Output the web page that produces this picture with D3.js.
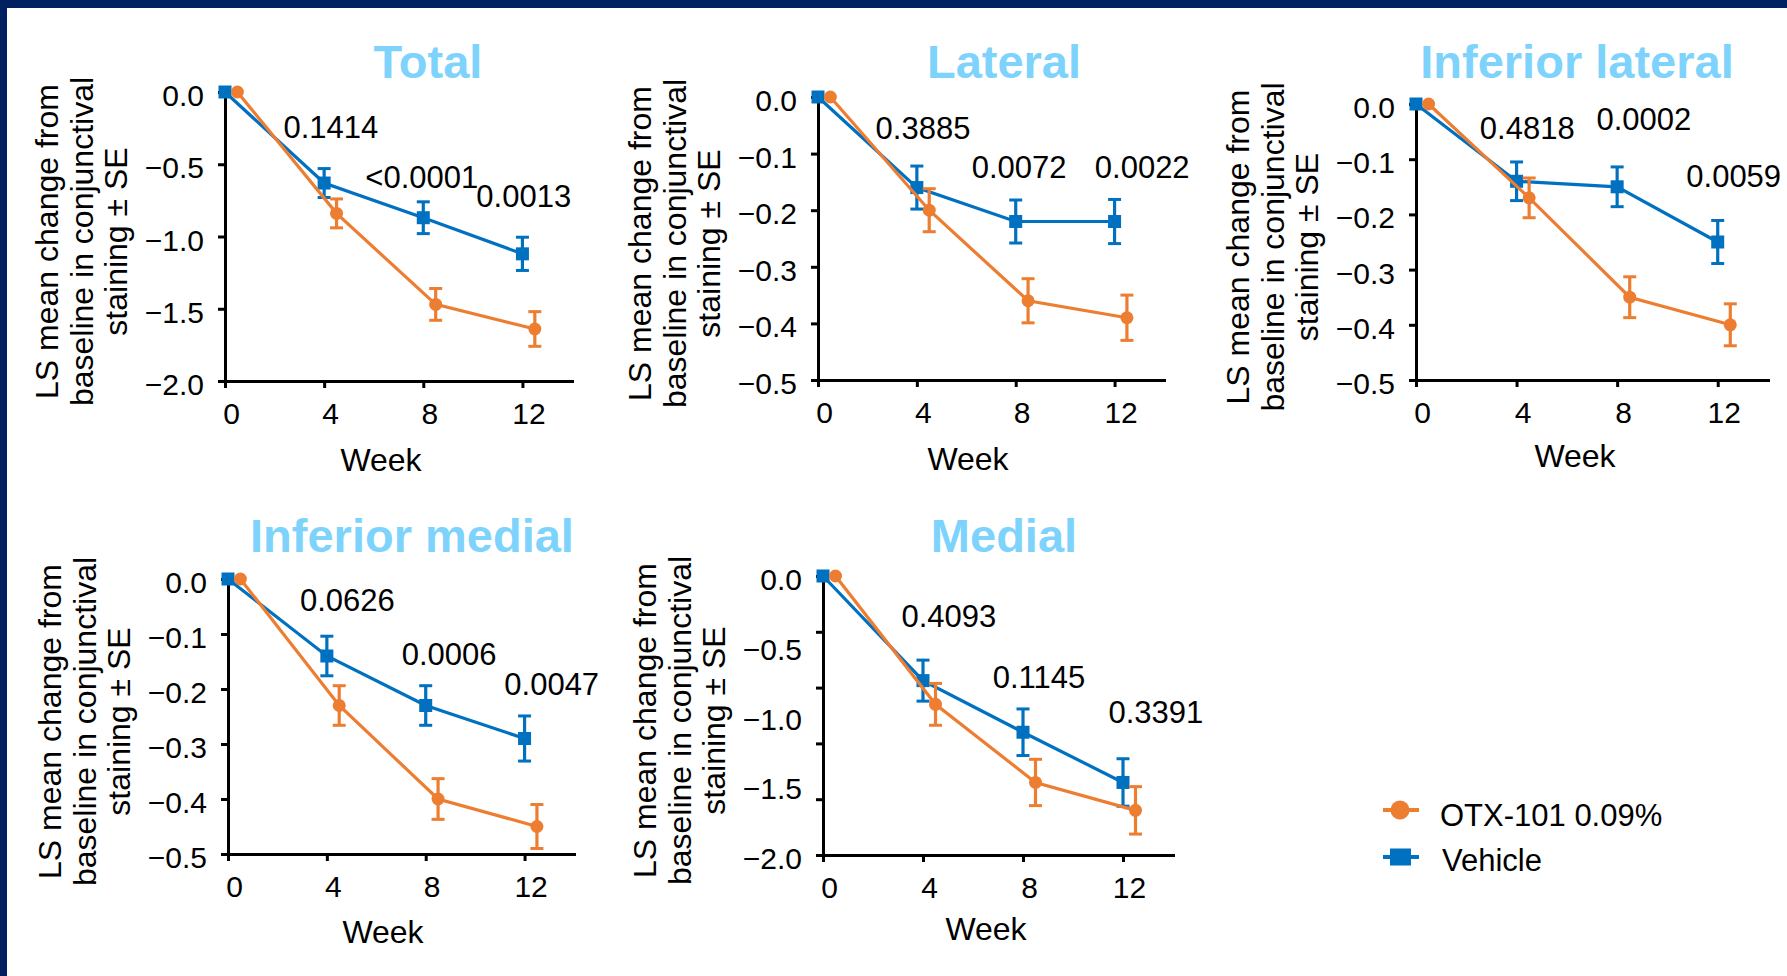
<!DOCTYPE html>
<html><head><meta charset="utf-8">
<script src="https://cdn.jsdelivr.net/npm/d3@7"></script>
<style>
html,body{margin:0;padding:0;background:#fff;}
svg{display:block;}
text{font-family:"Liberation Sans",Arial,Helvetica,sans-serif;}
</style></head><body>
<svg id="chart" width="1787" height="976"></svg>
<script>
// ---------------- DATA ----------------
const weeks = [0, 4, 8, 12];
const xTickValues = [0, 4, 8, 12];
const seriesNames = ["OTX-101 0.09%", "Vehicle"];
const panelTitles = ["Total", "Lateral", "Inferior lateral", "Inferior medial", "Medial"];
const yAxisTitle = ["LS mean change from", "baseline in conjunctival", "staining \u00b1 SE"];
const xAxisTitle = "Week";

// Total
const totalOtx   = [0, -0.84, -1.47, -1.64];
const totalOtxSE = [0, 0.10, 0.11, 0.12];
const totalVeh   = [0, -0.63, -0.87, -1.12];
const totalVehSE = [0, 0.10, 0.11, 0.115];
const totalP     = ["0.1414", "<0.0001", "0.0013"];
const totalYTicks = [0, -0.5, -1.0, -1.5, -2.0];

// Lateral
const lateralOtx   = [0, -0.20, -0.36, -0.39];
const lateralOtxSE = [0, 0.038, 0.039, 0.04];
const lateralVeh   = [0, -0.16, -0.22, -0.22];
const lateralVehSE = [0, 0.038, 0.038, 0.039];
const lateralP     = ["0.3885", "0.0072", "0.0022"];
const lateralYTicks = [0, -0.1, -0.2, -0.3, -0.4, -0.5];

// Inferior lateral
const infLatOtx   = [0, -0.17, -0.35, -0.40];
const infLatOtxSE = [0, 0.036, 0.037, 0.038];
const infLatVeh   = [0, -0.14, -0.15, -0.25];
const infLatVehSE = [0, 0.035, 0.036, 0.039];
const infLatP     = ["0.4818", "0.0002", "0.0059"];
const infLatYTicks = [0, -0.1, -0.2, -0.3, -0.4, -0.5];

// Inferior medial
const infMedOtx   = [0, -0.23, -0.40, -0.45];
const infMedOtxSE = [0, 0.036, 0.037, 0.04];
const infMedVeh   = [0, -0.14, -0.23, -0.29];
const infMedVehSE = [0, 0.036, 0.036, 0.041];
const infMedP     = ["0.0626", "0.0006", "0.0047"];
const infMedYTicks = [0, -0.1, -0.2, -0.3, -0.4, -0.5];

// Medial (tick marks and tick labels are not aligned in the original)
const medialOtx   = [0, -0.92, -1.48, -1.68];
const medialOtxSE = [0, 0.15, 0.166, 0.17];
const medialVeh   = [0, -0.75, -1.12, -1.48];
const medialVehSE = [0, 0.147, 0.167, 0.17];
const medialP     = ["0.4093", "0.1145", "0.3391"];
const medialYTicks = [0, -0.5, -1.0, -1.5, -2.0];
const medialYTickMarks = [0, -0.4, -0.8, -1.2, -1.6, -2.0];

// ---------------- LAYOUT ----------------
const COL_OTX = "#ed7d31", COL_VEH = "#0070c0", COL_TITLE = "#7dd3fb", COL_FRAME = "#002060";
const FONT = 31, TICK_FONT = 30, AXIS_FONT = 32;
const otxDodge = 0.5;   // orange points are drawn half a week to the right
const layout = [
  {left:225, right:572, top:92, bottom:381, tx:428, ty:78, wx:381, wy:471,
   pPos:[[2.36,-0.32],[5.66,-0.662],[10.14,-0.794]]},
  {left:818, right:1164, top:97, bottom:380, tx:1004, ty:78, wx:968, wy:470,
   pPos:[[2.33,-0.074],[6.22,-0.143],[11.2,-0.143]]},
  {left:1416, right:1768, top:104, bottom:380, tx:1577, ty:78, wx:1575, wy:467,
   pPos:[[2.54,-0.063],[7.18,-0.048],[10.75,-0.15]]},
  {left:228, right:574, top:579, bottom:854, tx:412, ty:552, wx:383, wy:943,
   pPos:[[2.91,-0.059],[7.03,-0.156],[11.18,-0.211]]},
  {left:823, right:1173, top:576, bottom:855, tx:1004, ty:552, wx:986, wy:940,
   pPos:[[3.14,-0.363],[6.79,-0.805],[11.42,-1.052]]}
];

const panels = [
  {title:panelTitles[0], yMin:-2,   otx:totalOtx,   otxSE:totalOtxSE,   veh:totalVeh,   vehSE:totalVehSE,   p:totalP,   ticks:totalYTicks,   marks:totalYTicks},
  {title:panelTitles[1], yMin:-0.5, otx:lateralOtx, otxSE:lateralOtxSE, veh:lateralVeh, vehSE:lateralVehSE, p:lateralP, ticks:lateralYTicks, marks:lateralYTicks},
  {title:panelTitles[2], yMin:-0.5, otx:infLatOtx,  otxSE:infLatOtxSE,  veh:infLatVeh,  vehSE:infLatVehSE,  p:infLatP,  ticks:infLatYTicks,  marks:infLatYTicks},
  {title:panelTitles[3], yMin:-0.5, otx:infMedOtx,  otxSE:infMedOtxSE,  veh:infMedVeh,  vehSE:infMedVehSE,  p:infMedP,  ticks:infMedYTicks,  marks:infMedYTicks},
  {title:panelTitles[4], yMin:-2,   otx:medialOtx,  otxSE:medialOtxSE,  veh:medialVeh,  vehSE:medialVehSE,  p:medialP,  ticks:medialYTicks,  marks:medialYTickMarks}
];

// ---------------- DRAW ----------------
const svg = d3.select("#chart");
svg.append("rect").attr("width",1787).attr("height",976).attr("fill",COL_FRAME);
svg.append("rect").attr("x",7).attr("y",8).attr("width",1780).attr("height",968).attr("fill","#fff");

function styleAxis(sel){
  sel.attr("font-size",TICK_FONT).attr("font-family",'"Liberation Sans",Arial,sans-serif');
  sel.selectAll(".domain").attr("stroke","#000").attr("stroke-width",3).attr("stroke-linecap","square");
  sel.selectAll(".tick line").attr("stroke","#000").attr("stroke-width",3);
  sel.selectAll(".tick text").attr("fill","#000");
}

panels.forEach((p, k) => {
  const L = layout[k];
  const x = d3.scaleLinear().domain([0,14]).range([L.left, L.right]);
  const y = d3.scaleLinear().domain([p.yMin, 0]).range([L.bottom, L.top]);
  const g = svg.append("g");

  // y tick marks (+ domain line)
  g.append("g").attr("transform",`translate(${L.left},0)`)
    .call(d3.axisLeft(y).tickValues(p.marks).tickFormat("").tickSizeInner(7).tickSizeOuter(0))
    .call(styleAxis);
  // y tick labels
  g.append("g").attr("transform",`translate(${L.left},0)`)
    .call(d3.axisLeft(y).tickValues(p.ticks).tickFormat(d3.format(".1f")).tickSize(0).tickPadding(21))
    .call(styleAxis)
    .call(s => { s.select(".domain").remove(); s.selectAll(".tick text").attr("dy","0.45em"); });
  // x axis
  g.append("g").attr("transform",`translate(0,${L.bottom})`)
    .call(d3.axisBottom(x).tickValues(xTickValues).tickFormat(d3.format("d")).tickSizeInner(7).tickSizeOuter(0).tickPadding(15))
    .call(styleAxis)
    .call(s => s.selectAll(".tick text").attr("dx", 6));

  // titles
  g.append("text").attr("x",L.tx).attr("y",L.ty).attr("text-anchor","middle")
    .attr("font-size",47).attr("font-weight","bold").attr("fill",COL_TITLE).text(p.title);
  g.append("text").attr("x",L.wx).attr("y",L.wy).attr("text-anchor","middle")
    .attr("font-size",AXIS_FONT).attr("fill","#000").text(xAxisTitle);
  const cy = (L.top + L.bottom)/2 + 5;
  const offs = [167, 132, 98];
  yAxisTitle.forEach((t,i) => {
    g.append("text").attr("transform",`translate(${L.left - offs[i]},${cy}) rotate(-90)`)
      .attr("text-anchor","middle").attr("font-size",AXIS_FONT).attr("fill","#000").text(t);
  });

  // series
  const drawSeries = (vals, ses, dodge, color, shape) => {
    const sg = g.append("g");
    sg.append("path").datum(weeks.map((w,i)=>[w+dodge, vals[i]]))
      .attr("d", d3.line().x(d=>x(d[0])).y(d=>y(d[1])))
      .attr("fill","none").attr("stroke",color).attr("stroke-width",3.2);
    weeks.forEach((w,i) => {
      const cx = x(w+dodge);
      if (ses[i] > 0) {
        const y1 = y(vals[i]+ses[i]), y2 = y(vals[i]-ses[i]);
        sg.append("line").attr("x1",cx).attr("x2",cx).attr("y1",y1).attr("y2",y2).attr("stroke",color).attr("stroke-width",3.2);
        [y1,y2].forEach(yy => sg.append("line").attr("x1",cx-6.5).attr("x2",cx+6.5).attr("y1",yy).attr("y2",yy).attr("stroke",color).attr("stroke-width",3));
      }
      if (shape === "square") {
        sg.append("rect").attr("x",cx-6.5).attr("y",y(vals[i])-6.5).attr("width",13).attr("height",13).attr("fill",color);
      } else {
        sg.append("circle").attr("cx",cx).attr("cy",y(vals[i])).attr("r",6.5).attr("fill",color);
      }
    });
  };
  drawSeries(p.veh, p.vehSE, 0, COL_VEH, "square");
  drawSeries(p.otx, p.otxSE, otxDodge, COL_OTX, "circle");

  // p-values
  p.p.forEach((t,i) => {
    g.append("text").attr("x",x(L.pPos[i][0])).attr("y",y(L.pPos[i][1]))
      .attr("font-size",FONT).attr("fill","#000").text(t);
  });
});

// legend
const leg = svg.append("g");
const legItems = [
  {name:seriesNames[0], color:COL_OTX, shape:"circle", cy:810, tx:1440, ty:826},
  {name:seriesNames[1], color:COL_VEH, shape:"square", cy:857, tx:1442, ty:871}
];
legItems.forEach(it => {
  leg.append("line").attr("x1",1383).attr("x2",1419).attr("y1",it.cy).attr("y2",it.cy).attr("stroke",it.color).attr("stroke-width",4);
  if (it.shape === "circle") leg.append("circle").attr("cx",1400).attr("cy",it.cy).attr("r",9.5).attr("fill",it.color);
  else leg.append("rect").attr("x",1390).attr("y",it.cy-8.5).attr("width",21).attr("height",17).attr("fill",it.color);
  leg.append("text").attr("x",it.tx).attr("y",it.ty).attr("font-size",FONT).attr("fill","#000").text(it.name);
});
</script>
</body></html>
